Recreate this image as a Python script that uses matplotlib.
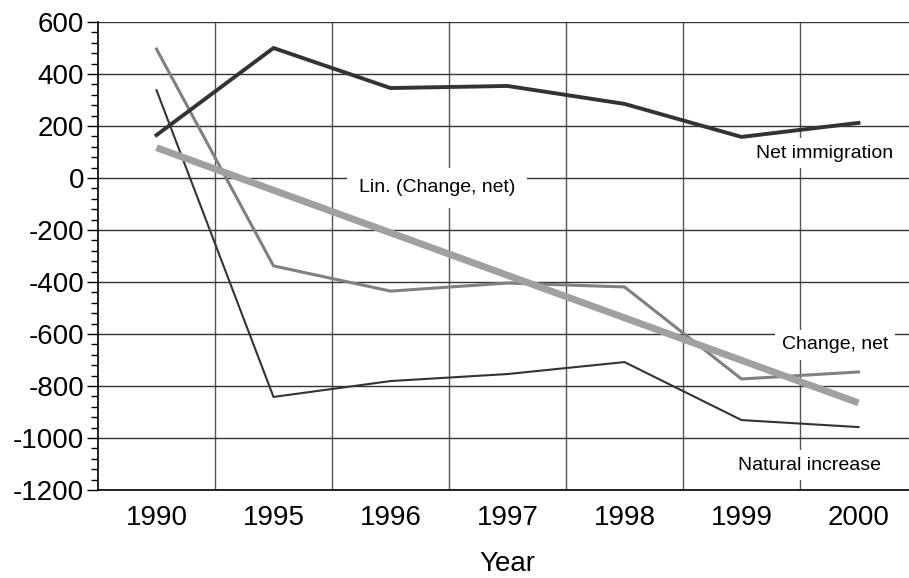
import matplotlib
matplotlib.use("Agg")
import matplotlib.pyplot as plt
from matplotlib.ticker import MultipleLocator, FixedLocator
import numpy as np

years = ["1990", "1995", "1996", "1997", "1998", "1999", "2000"]
net_immigration = [165, 500, 346, 354, 285, 158, 212]
change_net = [496, -338, -435, -404, -419, -773, -746]
natural_increase = [338, -842, -781, -754, -708, -931, -958]

plt.rcParams['font.family'] = ['Liberation Sans', 'DejaVu Sans']
plt.rcParams['axes.unicode_minus'] = False

fig = plt.figure(figsize=(9.09, 5.78), dpi=100)
ax = fig.add_axes([98/909, 88/578, 819/909, 468/578])

x = np.arange(len(years))
ax.plot(x, natural_increase, color='#333333', lw=1.5, zorder=3)
ax.plot(x, change_net, color='#808080', lw=2.2, zorder=4)
ax.plot(x, net_immigration, color='#333333', lw=2.8, zorder=5)

coef = np.polyfit(x, change_net, 1)
ax.plot(x, np.polyval(coef, x), color='#a0a0a0', lw=5.0, zorder=6, solid_capstyle='butt')

ax.set_xlim(-0.5, len(years) - 0.5)
ax.set_ylim(-1200, 600)
ax.set_xticks(x)
ax.set_xticklabels(years, fontsize=20)
ax.xaxis.set_minor_locator(FixedLocator(x[:-1] + 0.5))
ax.tick_params(axis='x', which='both', length=0, pad=11)
ax.yaxis.set_major_locator(MultipleLocator(200))
ax.yaxis.set_minor_locator(MultipleLocator(40))
ax.tick_params(axis='y', which='major', length=8, width=1, labelsize=20, pad=2)
ax.tick_params(axis='y', which='minor', length=5, width=1)
ax.grid(axis='y', which='major', color='#333333', lw=1.0, zorder=1)
ax.grid(axis='x', which='minor', color='#555555', lw=1.0, zorder=1)
ax.set_axisbelow(True)
for s in ['top', 'right']:
    ax.spines[s].set_visible(False)
ax.spines['left'].set_linewidth(1.2)
ax.spines['bottom'].set_linewidth(1.2)

ax.set_xlabel("Year", fontsize=20, labelpad=14)

box = dict(facecolor='white', edgecolor='none', boxstyle='square,pad=0.35')
ax.text(2.397, -38, "Lin. (Change, net)", fontsize=14, ha='center', va='center',
        bbox=dict(facecolor='white', edgecolor='none', boxstyle='square,pad=0.6'), zorder=10)
ax.text(5.714, 96, "Net immigration", fontsize=14, ha='center', va='center', bbox=box, zorder=10)
ax.text(5.80, -642, "Change, net", fontsize=14, ha='center', va='center', bbox=box, zorder=10)
ax.text(5.585, -1104, "Natural increase", fontsize=14, ha='center', va='center', bbox=box, zorder=10)

fig.savefig("out.png", dpi=100)
